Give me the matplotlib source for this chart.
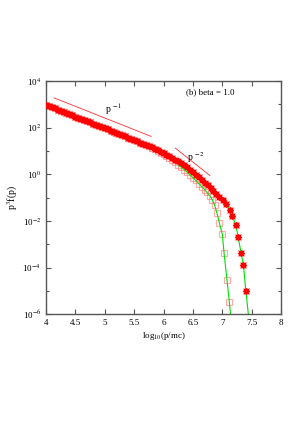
import numpy as np
import matplotlib
matplotlib.use("Agg")
import matplotlib.pyplot as plt

# log10(p/mc) positions and log10(p^3 f(p)) values
x_dense = [4.00, 4.05, 4.10, 4.15, 4.20, 4.25, 4.30, 4.35, 4.40, 4.45,
           4.50, 4.55, 4.60, 4.65, 4.70, 4.75, 4.80, 4.85, 4.90, 4.95,
           5.00, 5.05, 5.10, 5.15, 5.20, 5.25, 5.30, 5.35, 5.40, 5.45,
           5.50, 5.55, 5.60, 5.65, 5.70]
ly_dense = [2.97, 2.92, 2.87, 2.82, 2.77, 2.72, 2.67, 2.62, 2.57, 2.52,
            2.47, 2.42, 2.37, 2.32, 2.27, 2.22, 2.17, 2.12, 2.07, 2.02,
            1.97, 1.92, 1.87, 1.82, 1.77, 1.72, 1.67, 1.62, 1.56, 1.51,
            1.46, 1.41, 1.35, 1.30, 1.25]

# run with star + square markers (upper tail)
x_star = [5.75, 5.80, 5.85, 5.90, 5.95, 6.00, 6.05, 6.10, 6.15, 6.20,
          6.25, 6.30, 6.35, 6.40, 6.45, 6.50, 6.55, 6.60, 6.65, 6.70,
          6.75, 6.80, 6.85, 6.90, 6.95, 7.01, 7.06, 7.13, 7.17, 7.23,
          7.27, 7.32, 7.36, 7.40, 7.46]
ly_star = [1.20, 1.15, 1.09, 1.03, 0.97, 0.91, 0.84, 0.77, 0.70, 0.63,
           0.55, 0.47, 0.39, 0.30, 0.20, 0.09, -0.02, -0.13, -0.25, -0.37,
           -0.48, -0.60, -0.72, -0.84, -0.96, -1.10, -1.28, -1.54, -1.79, -2.18,
           -2.70, -3.38, -3.90, -5.00, -6.40]

# run with square markers only (lower tail)
x_sq = [5.75, 5.80, 5.85, 5.90, 5.95, 6.00, 6.05, 6.10, 6.15, 6.20,
        6.25, 6.30, 6.35, 6.40, 6.45, 6.50, 6.55, 6.60, 6.65, 6.70,
        6.74, 6.79, 6.83, 6.87, 6.91, 6.95, 7.00, 7.03, 7.08, 7.12, 7.16]
ly_sq = [1.19, 1.13, 1.06, 0.99, 0.92, 0.85, 0.77, 0.69, 0.60, 0.51,
         0.41, 0.31, 0.20, 0.09, -0.03, -0.15, -0.27, -0.40, -0.53, -0.66,
         -0.78, -0.93, -1.10, -1.33, -1.67, -2.09, -2.57, -3.38, -4.54, -5.50, -6.50]

# guide lines p^-1 and p^-2
g1_x = [4.14, 5.79]
g1_ly = [3.27, 1.62]
g2_x = [6.20, 6.79]
g2_ly = [1.12, -0.06]

plt.rcParams['font.family'] = ['Liberation Serif', 'DejaVu Serif']
plt.rcParams['mathtext.fontset'] = 'stix'

fig = plt.figure(figsize=(3.0, 4.28), dpi=100)
ax = fig.add_axes([0.153, 0.266, 0.784, 0.545])

xs_all = x_dense + x_star
ys_all = 10 ** np.array(ly_dense + ly_star)
xq_all = x_dense + x_sq
yq_all = 10 ** np.array(ly_dense + ly_sq)

pink = '#ff7070'
ax.plot(xq_all, yq_all, ls='none', marker='s', ms=4.2, mfc='none',
        mec=pink, mew=0.8, alpha=0.6, zorder=2)
ax.plot(xs_all, ys_all, ls='none', marker='s', ms=4.2, mfc='none',
        mec=pink, mew=0.8, alpha=0.6, zorder=2)
ax.plot(xq_all, yq_all, color='#00dd00', lw=0.8, zorder=2.5)
ax.plot(xs_all, ys_all, color='#00dd00', lw=0.8, zorder=2.5)
ax.plot(xs_all, ys_all, ls='none', marker=(8, 2, 0), ms=4.2,
        mec='#ff0000', mew=0.9, zorder=3)

ax.plot(g1_x, 10 ** np.array(g1_ly), color='#ff3030', lw=0.6)
ax.plot(g2_x, 10 ** np.array(g2_ly), color='#ff3030', lw=0.6)

ax.text(5.15, 10 ** 2.8, r'p $^{-1}$', fontsize=7, ha='center', va='center')
ax.text(6.55, 10 ** 0.72, r'p $^{-2}$', fontsize=7, ha='center', va='center')
ax.text(6.8, 10 ** 3.5, '(b) beta = 1.0', fontsize=6.5, ha='center', va='center')

ax.set_yscale('log')
ax.set_xlim(4, 8)
ax.set_ylim(1e-6, 1e4)
ax.set_xticks([4, 4.5, 5, 5.5, 6, 6.5, 7, 7.5, 8])
ax.set_xticklabels(['4', '4.5', '5', '5.5', '6', '6.5', '7', '7.5', '8'])
ax.set_yticks([1e-6, 1e-4, 1e-2, 1e0, 1e2, 1e4])
ax.set_yticklabels([r'10$^{-6}$', r'10$^{-4}$', r'10$^{-2}$', r'10$^{0}$',
                    r'10$^{2}$', r'10$^{4}$'])
ax.set_yticks([1e-5, 1e-3, 1e-1, 1e1, 1e3], minor=True)
ax.yaxis.set_minor_formatter(matplotlib.ticker.NullFormatter())
ax.tick_params(which='both', direction='in', top=True, right=True,
               labelsize=6.5, color='#555555', width=0.8)
ax.tick_params(which='major', length=3.5)
ax.tick_params(which='minor', length=2)
for s in ax.spines.values():
    s.set_color('#555555')
    s.set_linewidth(1.0)

ax.set_xlabel(r'log$_{10}$(p/mc)', fontsize=6.5, labelpad=2)
ax.set_ylabel(r'p$^3$f(p)', fontsize=7, labelpad=2)

fig.savefig('out.png', dpi=100)
